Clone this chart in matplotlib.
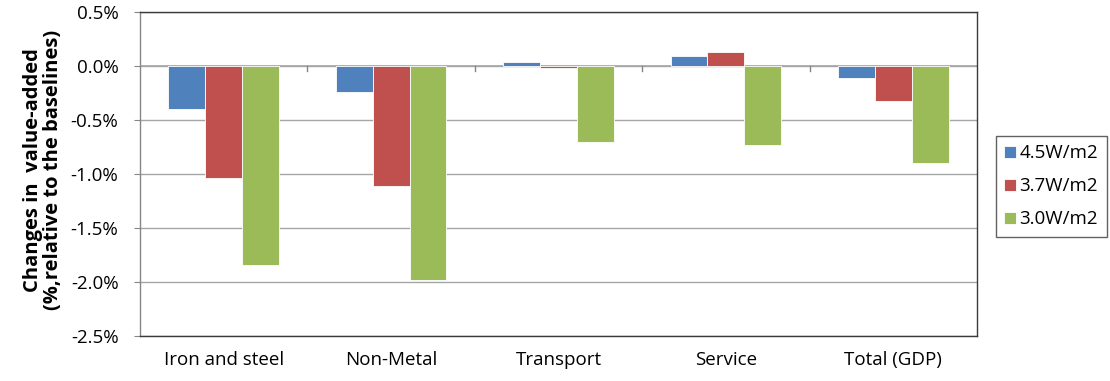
import numpy as np
import matplotlib
matplotlib.use("Agg")
from matplotlib import pyplot as plt
from matplotlib.ticker import FuncFormatter

plt.rcParams['font.family'] = ['Open Sans', 'DejaVu Sans']

sectors = ["Iron and steel", "Non-Metal", "Transport", "Service", "Total (GDP)"]
scenarios = ["4.5W/m2", "3.7W/m2", "3.0W/m2"]
rf_45 = [-0.40, -0.24, 0.04, 0.09, -0.11]
rf_37 = [-1.04, -1.11, -0.02, 0.13, -0.32]
rf_30 = [-1.84, -1.98, -0.70, -0.73, -0.90]
colors = ["#4F81BD", "#C0504D", "#9BBB59"]

fig = plt.figure(figsize=(11.10, 3.81), dpi=100)
ax = fig.add_axes([140/1110, 1-336/381, (977-140)/1110, (336-12)/381])

x = np.arange(len(sectors))
w = 0.22
for i, (vals, c) in enumerate(zip([rf_45, rf_37, rf_30], colors)):
    ax.bar(x + (i-1)*w, vals, w, color=c, edgecolor="white", linewidth=0.6,
           label=scenarios[i], zorder=3)

ax.set_xlim(-0.5, len(sectors)-0.5)
ax.set_ylim(-2.5, 0.5)
ax.set_yticks(np.arange(-2.5, 0.51, 0.5))
ax.yaxis.set_major_formatter(FuncFormatter(lambda v, p: f"{v:.1f}%"))
ax.yaxis.grid(True, color="#A6A6A6", linewidth=1.0, zorder=0)
ax.axhline(0, color="#A6A6A6", linewidth=1.2, zorder=2)

# category separators hang below the zero line
for b in np.arange(0.5, len(sectors)-0.5, 1.0):
    ax.plot([b, b], [0, -0.05], color="#868686", linewidth=1.0, zorder=2)

ax.set_xticks(x)
ax.set_xticklabels(sectors, fontsize=13.5)
ax.tick_params(axis="x", length=0, pad=11)
ax.tick_params(axis="y", direction="out", length=4.5, color="#868686",
               labelsize=13.5, pad=11)

for s in ["top", "right", "bottom"]:
    ax.spines[s].set_color("#3A3A3A")
    ax.spines[s].set_linewidth(1.0)
ax.spines["left"].set_color("#868686")
ax.spines["left"].set_linewidth(1.0)

fig.text(43/1110, 1-170/381, "Changes in  value-added\n(%,relative to the baselines)",
         rotation=90, ha="center", va="center", fontsize=14.5,
         fontweight="bold", linespacing=1.05)

leg = fig.legend(loc="upper left", bbox_to_anchor=(996/1110, 1-136/381),
                 frameon=True, fancybox=False, fontsize=13.5,
                 handlelength=0.6, handleheight=0.6, handletextpad=0.2,
                 labelspacing=0.8, borderpad=0.45, borderaxespad=0)
leg.get_frame().set_edgecolor("#3A3A3A")
leg.get_frame().set_linewidth(1.0)

plt.savefig("out.png", dpi=100)
